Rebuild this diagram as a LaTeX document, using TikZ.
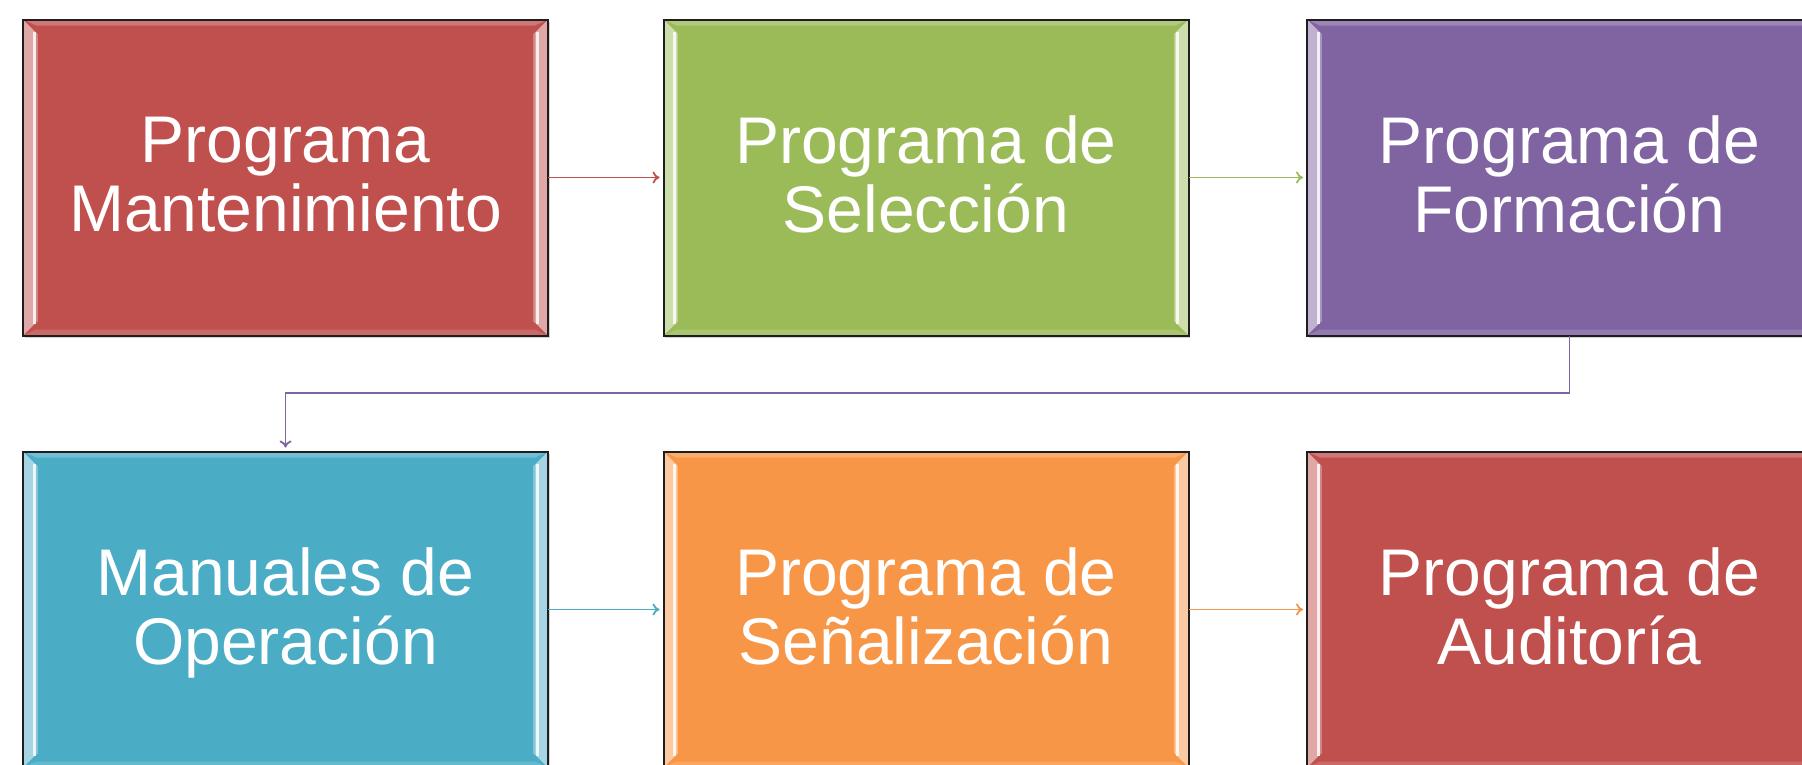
\documentclass[tikz,border=0pt]{standalone}
\usepackage{fontspec}
\setmainfont{Liberation Sans}
\usetikzlibrary{calc,shadows,arrows.meta}
\definecolor{cred}{HTML}{C0504D}
\definecolor{cgreen}{HTML}{9BBB59}
\definecolor{cpurple}{HTML}{8064A2}
\definecolor{cblue}{HTML}{4BACC6}
\definecolor{corange}{HTML}{F79646}
\definecolor{cborder}{HTML}{1E1E1E}
\tikzset{
  box/.style={minimum width=525pt,minimum height=316pt,inner sep=0pt,outer sep=0pt,
    fill=#1,text=white,font=\fontsize{66}{69}\selectfont,align=center,text depth=7pt,
    drop shadow={shadow xshift=1.5pt,shadow yshift=-2.5pt,opacity=0.35}},
  conn/.style={draw=#1,line width=1.8pt,-{To[length=7pt,width=12pt]},shorten >=4pt},
  edge line/.style={draw=cborder,line width=2pt}
}
\newcommand\bevelbox[2]{%
  \fill[#2!78!white] (#1.north west) -- (#1.north east) -- ($(#1.north east)+(-13,6)$) -- ($(#1.north west)+(13,6)$) -- cycle;
  \fill[#2!85!white] (#1.south west) -- (#1.south east) -- ($(#1.south east)+(-13,-6)$) -- ($(#1.south west)+(13,-6)$) -- cycle;
  \fill[#2!50!white] (#1.north west) -- ($(#1.north west)+(14,14)$) -- ($(#1.south west)+(14,-14)$) -- (#1.south west) -- cycle;
  \fill[#2!50!white] (#1.north east) -- ($(#1.north east)+(-14,14)$) -- ($(#1.south east)+(-14,-14)$) -- (#1.south east) -- cycle;
  \draw[#2!10!white,line width=3pt] ($(#1.north west)+(11,12)$) -- ($(#1.south west)+(11,-12)$);
  \draw[#2!10!white,line width=3pt] ($(#1.north east)+(-11,12)$) -- ($(#1.south east)+(-11,-12)$);
  \draw[#2!70!white,line width=1.5pt] ($(#1.north west)+(14,14)$) -- ($(#1.south west)+(14,-14)$);
  \draw[#2!70!white,line width=1.5pt] ($(#1.north east)+(-14,14)$) -- ($(#1.south east)+(-14,-14)$);
  \draw[edge line] (#1.north west) rectangle (#1.south east);
}
\begin{document}
\begin{tikzpicture}[x=1pt,y=-1pt]
\useasboundingbox (0,0) rectangle (1802,764);
\clip (0,0) rectangle (1802,764);
\node[box=cred]    (b1) at (285.5,177.5) {Programa\\Mantenimiento};
\node[box=cgreen]  (b2) at (926,177.5)   {Programa de\\Selección};
\node[box=cpurple] (b3) at (1569.5,177.5){Programa de\\Formación};
\node[box=cblue]   (b4) at (285.5,609.5) {Manuales de\\Operación};
\node[box=corange] (b5) at (926,609.5)   {Programa de\\Señalización};
\node[box=cred]    (b6) at (1569.5,609.5){Programa de\\Auditoría};
\bevelbox{b1}{cred}
\bevelbox{b2}{cgreen}
\bevelbox{b3}{cpurple}
\bevelbox{b4}{cblue}
\bevelbox{b5}{corange}
\bevelbox{b6}{cred}
\draw[conn=cred] (b1.east) -- (b2.west);
\draw[conn=cgreen] (b2.east) -- (b3.west);
\draw[conn=cpurple] (b3.south) -- ++(0,57.5) -| (b4.north);
\draw[conn=cblue] (b4.east) -- (b5.west);
\draw[conn=corange] (b5.east) -- (b6.west);
\end{tikzpicture}
\end{document}
